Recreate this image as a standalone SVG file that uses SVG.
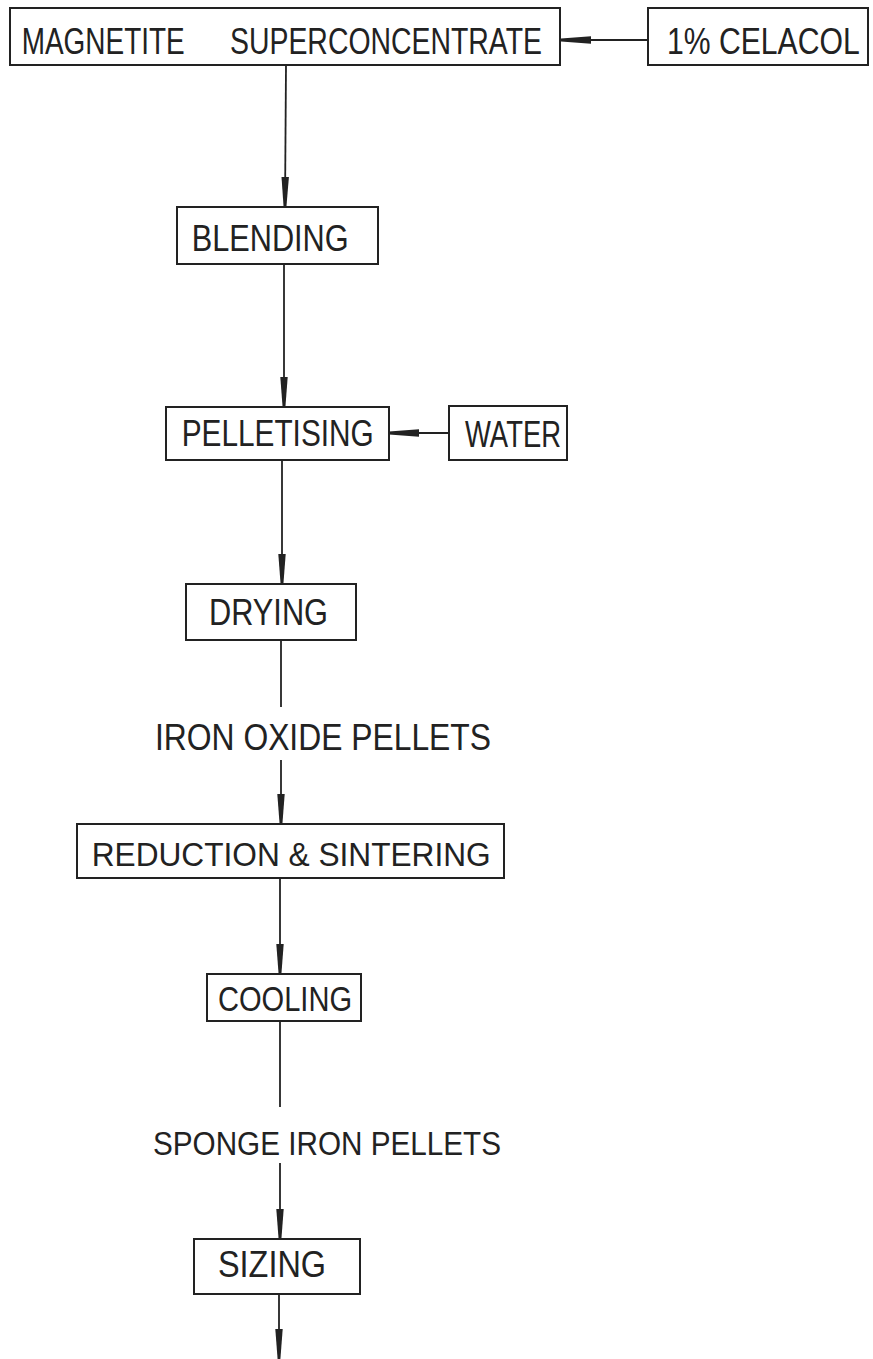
<svg xmlns="http://www.w3.org/2000/svg" width="873" height="1359" viewBox="0 0 873 1359">
<style>
.box{fill:none;stroke:#222;stroke-width:2}
.ln{fill:none;stroke:#222;stroke-width:1.8}
.t{font-family:"Liberation Sans",Arial,sans-serif;font-size:37px;fill:#222}
.s{font-size:34px}
</style>
<defs>
<marker id="ah" markerUnits="userSpaceOnUse" markerWidth="32" markerHeight="10" refX="30" refY="4" orient="auto" overflow="visible">
<path d="M0,0.3 L30,2.6 L30,5.4 L0,7.7 Z" fill="#222"/>
</marker>
</defs>
<rect width="873" height="1359" fill="#fff"/>
<g id="connectors">
<line class="ln" x1="648" y1="40" x2="561" y2="40" marker-end="url(#ah)"/>
<line class="ln" x1="286" y1="65" x2="285" y2="207" marker-end="url(#ah)"/>
<line class="ln" x1="284" y1="264" x2="284" y2="407" marker-end="url(#ah)"/>
<line class="ln" x1="449" y1="433" x2="389" y2="433" marker-end="url(#ah)"/>
<line class="ln" x1="282" y1="460" x2="282" y2="584" marker-end="url(#ah)"/>
<line class="ln" x1="281" y1="640" x2="281" y2="707"/>
<line class="ln" x1="281" y1="760" x2="281" y2="824" marker-end="url(#ah)"/>
<line class="ln" x1="280" y1="878" x2="280" y2="974" marker-end="url(#ah)"/>
<line class="ln" x1="280" y1="1021" x2="280" y2="1107"/>
<line class="ln" x1="280" y1="1163" x2="280" y2="1239" marker-end="url(#ah)"/>
<line class="ln" x1="279" y1="1294" x2="279" y2="1359" marker-end="url(#ah)"/>
</g>
<g id="magnetite">
<rect class="box" x="10" y="8" width="550" height="57"/>
<text class="t" y="53.5"><tspan x="21.7" textLength="163" lengthAdjust="spacingAndGlyphs">MAGNETITE</tspan> <tspan x="230" textLength="312" lengthAdjust="spacingAndGlyphs">SUPERCONCENTRATE</tspan></text>
</g>
<g id="celacol">
<rect class="box" x="648" y="8" width="220" height="57"/>
<text class="t" transform="translate(667,53.5) scale(0.82,1)" x="0" y="0" textLength="235" lengthAdjust="spacingAndGlyphs">1% CELACOL</text>
</g>
<g id="blending">
<rect class="box" x="177" y="207" width="201" height="57"/>
<text class="t" x="191.7" y="251" textLength="157" lengthAdjust="spacingAndGlyphs">BLENDING</text>
</g>
<g id="pelletising">
<rect class="box" x="166" y="407" width="223" height="53"/>
<text class="t" x="181.7" y="446" textLength="192" lengthAdjust="spacingAndGlyphs">PELLETISING</text>
</g>
<g id="water">
<rect class="box" x="449" y="406" width="118" height="54"/>
<text class="t" x="465" y="446.5" textLength="96" lengthAdjust="spacingAndGlyphs">WATER</text>
</g>
<g id="drying">
<rect class="box" x="186" y="584" width="170" height="56"/>
<text class="t" x="209" y="625" textLength="119" lengthAdjust="spacingAndGlyphs">DRYING</text>
</g>
<g id="iron-oxide-pellets">
<text class="t" x="155" y="750" textLength="336" lengthAdjust="spacingAndGlyphs">IRON OXIDE PELLETS</text>
</g>
<g id="reduction">
<rect class="box" x="77" y="824" width="427" height="54"/>
<text class="t s" x="91.7" y="865.5" textLength="399" lengthAdjust="spacingAndGlyphs">REDUCTION &amp; SINTERING</text>
</g>
<g id="cooling">
<rect class="box" x="207" y="974" width="154" height="47"/>
<text class="t" x="218" y="1011" textLength="134" lengthAdjust="spacingAndGlyphs" style="font-size:35px">COOLING</text>
</g>
<g id="sponge-iron-pellets">
<text class="t s" x="153" y="1155" textLength="348" lengthAdjust="spacingAndGlyphs">SPONGE IRON PELLETS</text>
</g>
<g id="sizing">
<rect class="box" x="194" y="1239" width="166" height="55"/>
<text class="t" x="218" y="1277" textLength="108" lengthAdjust="spacingAndGlyphs">SIZING</text>
</g>
</svg>
